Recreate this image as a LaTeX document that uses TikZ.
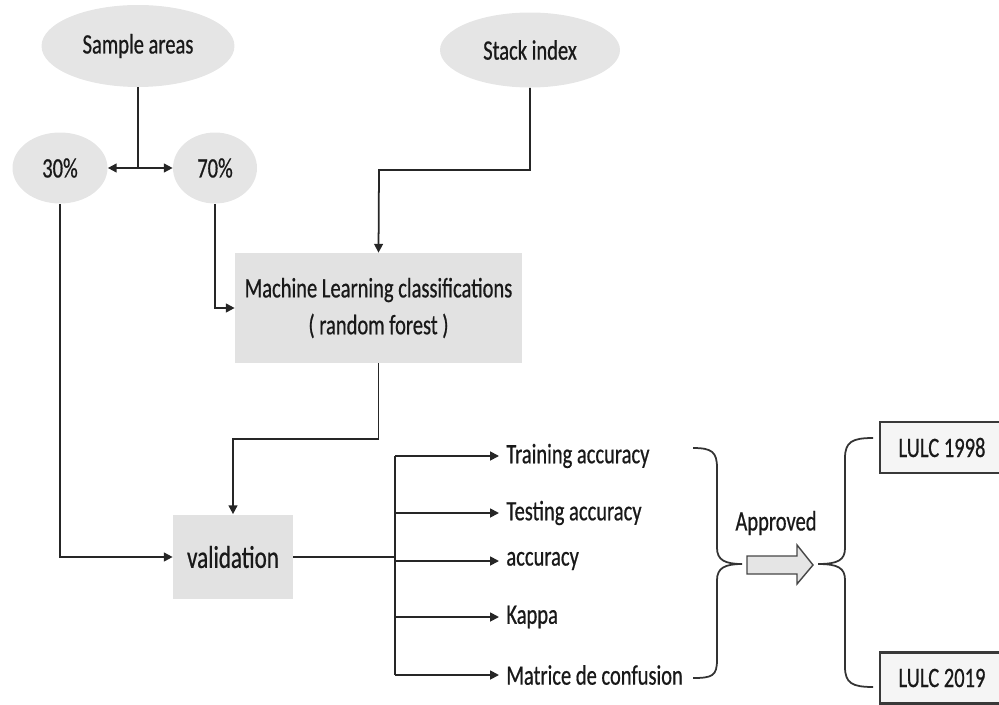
\documentclass[tikz,border=0pt]{standalone}
\usepackage{fontspec}
\setmainfont{Carlito}[FakeStretch=0.73, FakeBold=0.6]
\usetikzlibrary{arrows.meta,positioning,calc,shapes.geometric}

\begin{document}
\begin{tikzpicture}[x=0.02cm, y=-0.02cm,
  font=\fontsize{16}{21}\selectfont, text=black!90,
  blob/.style={ellipse, fill=gray!20, inner sep=0pt},
  procbox/.style={rectangle, fill=gray!23, inner sep=0pt, align=center},
  item/.style={anchor=west, inner sep=4pt},
  result/.style={rectangle, draw=gray!45!black, line width=1.3pt, fill=gray!8,
    minimum width=2.48cm, minimum height=1.02cm, inner sep=0pt},
  arr/.style={-{Triangle[length=5pt,width=5pt]}, line width=1pt, draw=black!85},
  link/.style={line width=1pt, draw=black!85},
  brace/.style={line width=1pt, draw=gray!40!black}]
  \useasboundingbox (0,0) rectangle (999,705);
  \clip (0,0) rectangle (999,705);
  % inputs
  \node[blob, minimum width=3.86cm, minimum height=1.64cm] (samp) at (138,46) {Sample areas};
  \node[blob, minimum width=3.6cm, minimum height=1.5cm] (stack) at (530,50) {Stack index};
  \node[blob, minimum width=1.9cm, minimum height=1.42cm] (p30) at (60,168) {30\%};
  \node[blob, minimum width=1.68cm, minimum height=1.42cm] (p70) at (215,168) {70\%};
  % processing
  \node[procbox, minimum width=5.74cm, minimum height=2.2cm] (ml) at (378.5,308)
       {Machine Learning classifications\\( random forest )};
  \node[procbox, minimum width=2.4cm, minimum height=1.7cm, font=\fontsize{18}{22}\selectfont]
       (valid) at (233,557) {validation};
  % metrics
  \node[item] (tr) at (499,456) {Training accuracy};
  \node[item] (te) at (499,513) {Testing accuracy};
  \node[item] (ac) at (499,561) {accuracy};
  \node[item] (ka) at (499,617) {Kappa};
  \node[item] (mc) at (499,675) {Matrice de confusion};
  \node (appr) at (776,523) {Approved};
  \node[result] (l98) at (942,447.5) {LULC 1998};
  \node[result] (l19) at (942,678) {LULC 2019};

  \coordinate (split) at (138,168);
  \coordinate (bendS) at (379,170);
  \coordinate (bendM) at (233,439);
  \coordinate (fan) at (395,0);

  \draw[link] (samp.south) -- (split);
  \draw[arr] (split) -- (p30.east);
  \draw[arr] (split) -- (p70.west);
  \draw[arr] (p30.south) |- (valid.west);
  \draw[arr] (p70.south) |- (ml.west);
  \draw[arr] (stack.south) |- (bendS) -- (ml.north);
  \draw[arr] (ml.south) |- (bendM) -- (valid.north);
  \draw[link] (valid.east) -- (valid.east -| fan);
  \draw[link] (fan |- tr.west) -- (fan |- mc.west);
  \foreach \m in {tr,te,ac,ka,mc}
    \draw[arr] (fan |- \m.west) -- (\m.west);

  % braces and approval arrow
  \draw[brace] (693,448) .. controls (712,448) and (717,452) .. (717,468) -- (717,548)
    .. controls (717,560) and (725,564) .. (742,564)
    .. controls (725,564) and (717,568) .. (717,580) -- (717,660)
    .. controls (717,676) and (712,678) .. (693,678);
  \draw[fill=gray!20, draw=gray!55!black, line width=0.8pt]
    (747,556) -- (797,556) -- (797,545) -- (813,565) -- (797,584) -- (797,574) -- (747,574) -- cycle;
  \draw[brace] (873,438) .. controls (852,438) and (845,442) .. (845,458) -- (845,548)
    .. controls (845,560) and (838,564) .. (818,564)
    .. controls (838,564) and (845,568) .. (845,580) -- (845,667)
    .. controls (845,683) and (852,687) .. (873,687);
\end{tikzpicture}
\end{document}
